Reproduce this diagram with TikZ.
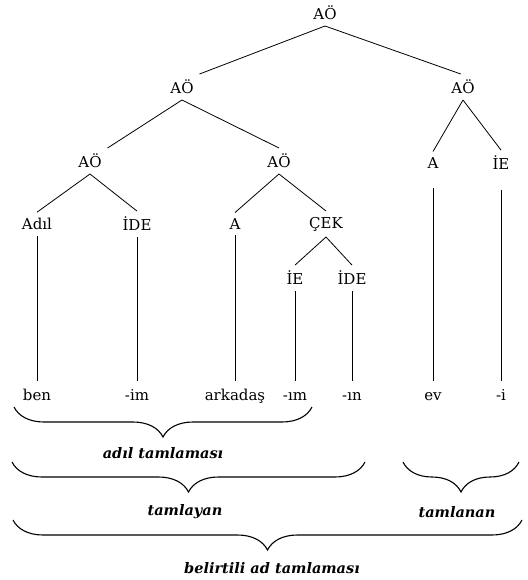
\documentclass[tikz,border=0pt]{standalone}
\usepackage{fontspec}
\setmainfont{DejaVu Serif}
\usetikzlibrary{decorations.pathreplacing}

\begin{document}
\begin{tikzpicture}[x=1pt, y=-1pt,
    kat/.style = {inner sep=4.5pt, outer sep=1.5pt, font=\fontsize{15}{17}\selectfont},
    sozcuk/.style = {inner sep=4pt, text height=11pt, text depth=3pt, font=\fontsize{15}{17}\selectfont},
    baslik/.style = {inner sep=0pt, font=\fontsize{14.5}{17}\selectfont\bfseries\itshape},
    dal/.style = {line width=0.8pt},
    dik/.style = {line width=0.8pt, shorten >=4pt},
    ayrac/.style = {decorate, decoration={brace, mirror, amplitude=30pt}, line width=1.1pt}]
    % Parametri
    \pgfmathsetmacro{\ya}{13}
    \pgfmathsetmacro{\yb}{87}
    \pgfmathsetmacro{\yc}{161}
    \pgfmathsetmacro{\yd}{224}
    \pgfmathsetmacro{\ye}{278}
    \pgfmathsetmacro{\yw}{396}
    \useasboundingbox (0,0) rectangle (527,580);

    % Albero
    \node[kat] (k) at (325,\ya) {AÖ};
    \node[kat] (ks) at (182,\yb) {AÖ};
    \node[kat] (kd) at (463,\yb) {AÖ};
    \node[kat] (kss) at (90,\yc) {AÖ};
    \node[kat] (ksd) at (279,\yc) {AÖ};
    \node[kat] (kdA) at (433,{\yc+2}) {A};
    \node[kat] (kdIE) at (501,{\yc+2}) {İE};
    \node[kat] (adil) at (37,\yd) {Adıl};
    \node[kat] (ideA) at (137,\yd) {İDE};
    \node[kat] (isim) at (235,\yd) {A};
    \node[kat] (cek) at (326,\yd) {ÇEK};
    \node[kat] (ie) at (295,\ye) {İE};
    \node[kat] (ideB) at (352,\ye) {İDE};

    % Parole
    \node[sozcuk] (ben) at (37,\yw) {ben};
    \node[sozcuk] (im) at (137,\yw) {-im};
    \node[sozcuk] (arkadas) at (235,\yw) {arkadaş};
    \node[sozcuk] (imB) at (295,\yw) {-ım};
    \node[sozcuk] (in) at (352,\yw) {-ın};
    \node[sozcuk] (ev) at (433,\yw) {ev};
    \node[sozcuk] (i) at (501,\yw) {-i};

    % Rami
    \draw[dal] (k.south) -- (ks.north east);
    \draw[dal] (k.south) -- (kd.100);
    \draw[dal] (ks.south) -- (kss.north east);
    \draw[dal] (ks.south) -- (ksd.north);
    \draw[dal] (kd.south) -- (kdA.north);
    \draw[dal] (kd.south) -- (kdIE.north);
    \draw[dal] (kss.south) -- (adil.north);
    \draw[dal] (kss.south) -- (ideA.north);
    \draw[dal] (ksd.south) -- (isim.north);
    \draw[dal] (ksd.south) -- (cek.north);
    \draw[dal] (cek.south) -- (ie.north);
    \draw[dal] (cek.south) -- (ideB.north);
    \draw[dik] (adil.south) -- (ben.north);
    \draw[dik] (ideA.south) -- (im.north);
    \draw[dik] (isim.south) -- (arkadas.north);
    \draw[dik] (ie.south) -- (imB.north);
    \draw[dik] (ideB.south) -- (in.north);
    \draw[dik, shorten <=14pt] (kdA.south) -- (ev.north);
    \draw[dik, shorten <=14pt] (kdIE.south) -- (i.north);

    % Graffe
    \coordinate (g1a) at (14,407);
    \coordinate (g1b) at (312,407);
    \coordinate (g2a) at (12,462);
    \coordinate (g2b) at (365,462);
    \coordinate (g3a) at (403,462);
    \coordinate (g3b) at (519,462);
    \coordinate (g4a) at (13,520);
    \coordinate (g4b) at (522,520);
    \draw[ayrac] (g1a) -- (g1b);
    \draw[ayrac] (g2a) -- (g2b);
    \draw[ayrac] (g3a) -- (g3b);
    \draw[ayrac] (g4a) -- (g4b);
    \node[baslik] (adilT) at (163,453) {adıl tamlaması};
    \node[baslik] (tamlayan) at (185,512) {tamlayan};
    \node[baslik] (tamlanan) at (457,512) {tamlanan};
    \node[baslik] (belirtili) at (272,568) {belirtili ad tamlaması};
\end{tikzpicture}
\end{document}
